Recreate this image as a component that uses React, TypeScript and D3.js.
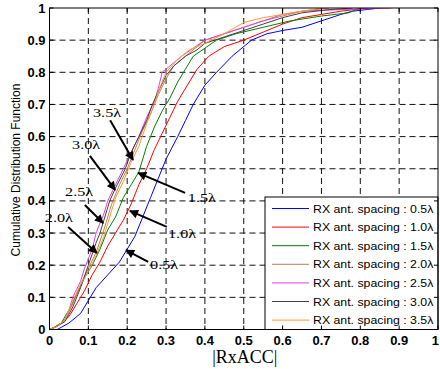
import React from "react";
import * as d3 from "d3";

const W = 440, H = 369;
const M = { left: 49.5, right: 2, top: 8, bottom: 39.5 };

const seriesNames = ["0.5λ", "1.0λ", "1.5λ", "2.0λ", "2.5λ", "3.0λ", "3.5λ"];
const seriesColors = ["#0000ff", "#ff0000", "#008000", "#bf7f50", "#e040e0", "#404040", "#ff9a30"];

const cdf05: [number, number][] = [[0,0],[0.02,0],[0.05,0.02],[0.08,0.05],[0.1,0.09],[0.12,0.13],[0.15,0.17],[0.18,0.21],[0.2,0.25],[0.22,0.29],[0.24,0.35],[0.26,0.41],[0.28,0.47],[0.3,0.53],[0.33,0.6],[0.35,0.65],[0.37,0.7],[0.4,0.76],[0.43,0.8],[0.47,0.85],[0.52,0.9],[0.56,0.92],[0.6,0.93],[0.65,0.94],[0.7,0.96],[0.75,0.98],[0.78,0.99],[0.85,1]];
const cdf10: [number, number][] = [[0,0],[0.01,0.005],[0.03,0.02],[0.05,0.04],[0.07,0.08],[0.09,0.12],[0.11,0.17],[0.13,0.21],[0.15,0.26],[0.17,0.3],[0.19,0.34],[0.21,0.39],[0.23,0.45],[0.25,0.5],[0.27,0.56],[0.29,0.61],[0.31,0.66],[0.33,0.71],[0.36,0.77],[0.38,0.81],[0.41,0.85],[0.45,0.88],[0.5,0.9],[0.55,0.925],[0.6,0.95],[0.65,0.97],[0.7,0.98],[0.75,0.99],[0.82,1]];
const cdf15: [number, number][] = [[0,0],[0.01,0.005],[0.03,0.02],[0.05,0.06],[0.07,0.11],[0.09,0.16],[0.11,0.2],[0.13,0.25],[0.15,0.31],[0.17,0.35],[0.19,0.41],[0.21,0.45],[0.23,0.49],[0.25,0.57],[0.27,0.63],[0.29,0.68],[0.31,0.72],[0.33,0.77],[0.35,0.81],[0.37,0.85],[0.4,0.875],[0.43,0.9],[0.48,0.92],[0.55,0.94],[0.62,0.96],[0.7,0.975],[0.77,0.985],[0.8,1]];
const cdf20: [number, number][] = [[0,0],[0.02,0.01],[0.04,0.03],[0.06,0.08],[0.08,0.14],[0.1,0.19],[0.12,0.24],[0.14,0.31],[0.16,0.39],[0.18,0.45],[0.2,0.5],[0.22,0.56],[0.24,0.62],[0.26,0.67],[0.28,0.73],[0.3,0.78],[0.32,0.82],[0.35,0.85],[0.38,0.88],[0.4,0.9],[0.45,0.92],[0.5,0.94],[0.55,0.96],[0.6,0.975],[0.65,0.99],[0.72,1]];
const cdf25: [number, number][] = [[0,0],[0.02,0.01],[0.04,0.03],[0.05,0.06],[0.06,0.1],[0.08,0.15],[0.09,0.19],[0.11,0.25],[0.12,0.3],[0.14,0.36],[0.15,0.4],[0.17,0.45],[0.19,0.5],[0.21,0.55],[0.23,0.6],[0.25,0.66],[0.27,0.71],[0.28,0.75],[0.29,0.8],[0.32,0.83],[0.34,0.85],[0.37,0.875],[0.4,0.9],[0.45,0.92],[0.5,0.94],[0.55,0.96],[0.6,0.98],[0.65,0.99],[0.75,0.995],[0.88,1]];
const cdf30: [number, number][] = [[0,0],[0.02,0.01],[0.04,0.025],[0.06,0.07],[0.08,0.13],[0.1,0.2],[0.12,0.27],[0.13,0.3],[0.155,0.4],[0.17,0.44],[0.195,0.5],[0.21,0.55],[0.23,0.6],[0.25,0.65],[0.265,0.7],[0.28,0.74],[0.3,0.79],[0.32,0.82],[0.35,0.85],[0.38,0.87],[0.4,0.89],[0.45,0.91],[0.5,0.93],[0.55,0.95],[0.6,0.97],[0.65,0.985],[0.72,0.995],[0.78,1]];
const cdf35: [number, number][] = [[0,0],[0.02,0.01],[0.04,0.03],[0.06,0.09],[0.08,0.14],[0.1,0.18],[0.12,0.23],[0.14,0.29],[0.16,0.37],[0.17,0.41],[0.19,0.46],[0.21,0.52],[0.23,0.57],[0.25,0.64],[0.27,0.7],[0.28,0.74],[0.3,0.8],[0.33,0.84],[0.36,0.87],[0.4,0.89],[0.45,0.92],[0.5,0.955],[0.55,0.97],[0.6,0.98],[0.65,0.99],[0.7,1]];

const seriesData = [cdf05, cdf10, cdf15, cdf20, cdf25, cdf30, cdf35];
const xTicks = [0, 0.1, 0.2, 0.3, 0.4, 0.5, 0.6, 0.7, 0.8, 0.9, 1];
const yTicks = [0, 0.1, 0.2, 0.3, 0.4, 0.5, 0.6, 0.7, 0.8, 0.9, 1];

const annLabels = ["3.5λ", "3.0λ", "2.5λ", "2.0λ", "1.5λ", "1.0λ", "0.5λ"];
const annText: [number, number][] = [[0.112, 0.661], [0.058, 0.561], [0.04, 0.415], [-0.012, 0.334], [0.356, 0.397], [0.305, 0.285], [0.259, 0.188]];
const annFrom: [number, number][] = [[0.156, 0.651], [0.104, 0.54], [0.091, 0.387], [0.048, 0.319], [0.349, 0.425], [0.302, 0.319], [0.254, 0.21]];
const annTo: [number, number][] = [[0.215, 0.527], [0.169, 0.434], [0.138, 0.331], [0.122, 0.238], [0.228, 0.487], [0.207, 0.369], [0.197, 0.247]];

const fmt = (v: number) => (v === 0 || v === 1 ? String(v) : v.toFixed(1));

export default function App() {
  const x = d3.scaleLinear().domain([0, 1]).range([M.left, W - M.right]);
  const y = d3.scaleLinear().domain([0, 1]).range([H - M.bottom, M.top]);
  const line = d3.line<[number, number]>().x(d => x(d[0])).y(d => y(d[1]));
  const x0 = x(0), x1 = x(1), y0 = y(0), y1 = y(1);

  const legX = 265, legY = 197;
  const legStep = 18.6;

  return (
    <svg width={W} height={H} style={{ position: "absolute", left: 0, top: 0 }}>
      <rect x={0} y={0} width={W} height={H} fill="#fff" />
      <defs>
        <clipPath id="plot">
          <rect x={x0} y={y1} width={x1 - x0} height={y0 - y1} />
        </clipPath>
        <marker id="ah" viewBox="0 0 10 10" refX="9" refY="5" markerWidth="5" markerHeight="4.5" orient="auto" markerUnits="strokeWidth">
          <path d="M0,0 L10,5 L0,10 z" fill="#000" />
        </marker>
      </defs>
      {/* grid */}
      <g stroke="#111" strokeWidth={1} strokeDasharray="6,4">
        {xTicks.slice(1, -1).map(t => (
          <line key={"gx" + t} x1={x(t)} x2={x(t)} y1={y1} y2={y0} />
        ))}
        {yTicks.slice(1, -1).map(t => (
          <line key={"gy" + t} x1={x0} x2={x1} y1={y(t)} y2={y(t)} />
        ))}
      </g>
      {/* curves */}
      <g clipPath="url(#plot)" fill="none" strokeWidth={1}>
        {seriesData.map((d, i) => (
          <path key={i} d={line(d) || ""} stroke={seriesColors[i]} />
        ))}
      </g>
      {/* annotations */}
      <g>
        {annLabels.map((l, i) => (
          <g key={l}>
            <line x1={x(annFrom[i][0])} y1={y(annFrom[i][1])} x2={x(annTo[i][0])} y2={y(annTo[i][1])} stroke="#000" strokeWidth={2} markerEnd="url(#ah)" />
            <text transform={`translate(${x(annText[i][0])},${y(annText[i][1])}) scale(1.2,1)`} fontFamily="'Liberation Serif', 'Times New Roman', serif" fontSize={13.5} fill="#000">{l}</text>
          </g>
        ))}
      </g>
      {/* legend */}
      <rect x={legX} y={legY} width={x1 - legX} height={y0 - legY} fill="#fff" stroke="#000" strokeWidth={1} />
      {seriesNames.map((n, i) => {
        const yy = legY + 11.5 + i * legStep;
        return (
          <g key={n}>
            <line x1={legX + 7} x2={legX + 44} y1={yy} y2={yy} stroke={seriesColors[i]} strokeWidth={1} />
            <text transform={`translate(${legX + 48},${yy + 4}) scale(1.12,1)`} fontFamily="'Liberation Sans', Arial, sans-serif" fontSize={11} fill="#000">{"RX ant. spacing : " + n}</text>
          </g>
        );
      })}
      {/* axes box */}
      <rect x={x0} y={y1} width={x1 - x0} height={y0 - y1} fill="none" stroke="#000" strokeWidth={1} />
      {/* ticks */}
      <g stroke="#000" strokeWidth={1}>
        {xTicks.map(t => (
          <g key={"tx" + t}>
            <line x1={x(t)} x2={x(t)} y1={y0} y2={y0 - 4} />
            <line x1={x(t)} x2={x(t)} y1={y1} y2={y1 + 4} />
          </g>
        ))}
        {yTicks.map(t => (
          <g key={"ty" + t}>
            <line x1={x0} x2={x0 + 4} y1={y(t)} y2={y(t)} />
            <line x1={x1} x2={x1 - 4} y1={y(t)} y2={y(t)} />
          </g>
        ))}
      </g>
      <g fontFamily="'Liberation Sans', Arial, sans-serif" fontSize={12} fontWeight="bold" fill="#000">
        {xTicks.map(t => (
          <text key={"lx" + t} transform={`translate(${t === 1 ? W - 1 : x(t)},${y0 + 15}) scale(1.08,1)`} textAnchor={t === 1 ? "end" : "middle"}>{fmt(t)}</text>
        ))}
        {yTicks.map(t => (
          <text key={"ly" + t} transform={`translate(${x0 - 4},${y(t) + 4.5}) scale(1.08,1)`} textAnchor="end">{fmt(t)}</text>
        ))}
      </g>
      <text x={(x0 + x1) / 2 + 1} y={363} textAnchor="middle" fontFamily="'Liberation Serif', 'Times New Roman', serif" fontSize={18} fill="#000">|RxACC|</text>
      <text transform={`translate(20, 170) rotate(-90)`} textAnchor="middle" fontFamily="'Liberation Sans', Arial, sans-serif" fontSize={12} fill="#000">Cumulative Distribution Function</text>
    </svg>
  );
}
